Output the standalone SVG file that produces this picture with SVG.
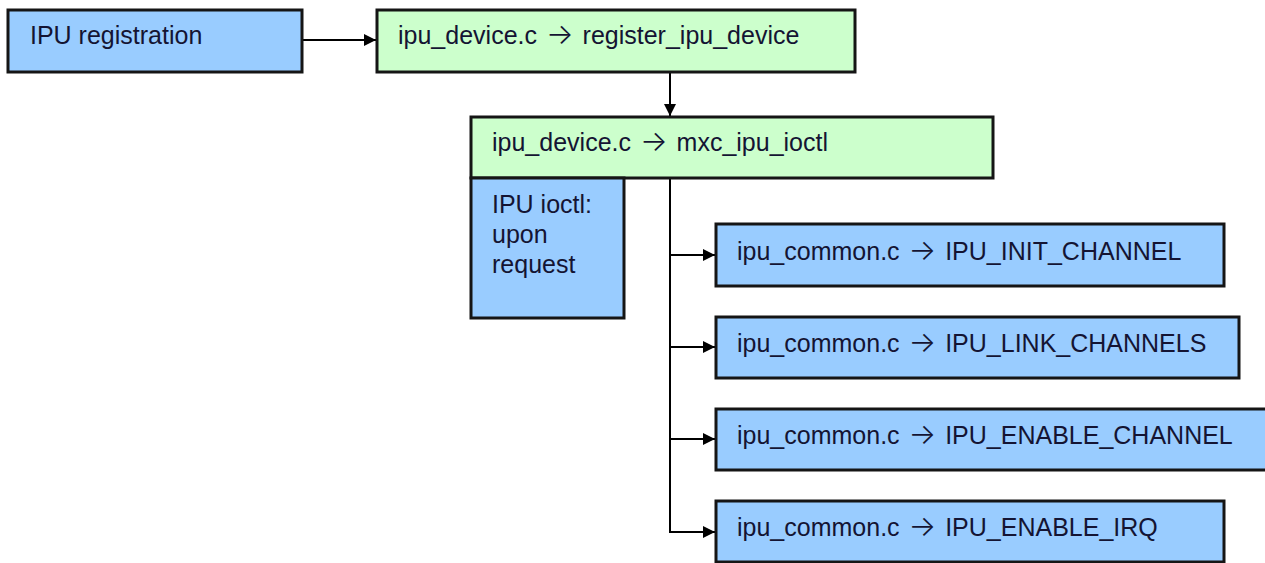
<svg xmlns="http://www.w3.org/2000/svg" width="1265" height="563" viewBox="0 0 1265 563">
<style>
.box{stroke:#151515;stroke-width:3}
.blue{fill:#99ccff}
.green{fill:#ccffcc}
text{font-family:"Liberation Sans",Arial,sans-serif;font-size:25px;fill:#141433}
.arr{font-family:Inter,"DejaVu Sans",sans-serif;font-weight:300;font-size:29px}
.conn{stroke:#000;stroke-width:2;fill:none}
</style>
<defs>
<marker id="ah" viewBox="0 0 10 10" refX="10" refY="5" markerWidth="14" markerHeight="12" markerUnits="userSpaceOnUse" orient="auto">
<path d="M0,0 L10,5 L0,10 Z" fill="#000"/>
</marker>
</defs>
<rect width="1265" height="563" fill="#fff"/>
<g id="connectors">
<line class="conn" x1="302" y1="40" x2="376" y2="40" marker-end="url(#ah)"/>
<line class="conn" x1="670" y1="72" x2="670" y2="116" marker-end="url(#ah)"/>
<polyline class="conn" points="670,179 670,532"/>
<line class="conn" x1="670" y1="255" x2="715" y2="255" marker-end="url(#ah)"/>
<line class="conn" x1="670" y1="347" x2="715" y2="347" marker-end="url(#ah)"/>
<line class="conn" x1="670" y1="439" x2="715" y2="439" marker-end="url(#ah)"/>
<line class="conn" x1="669" y1="532" x2="715" y2="532" marker-end="url(#ah)"/>
</g>
<g id="ipu-registration">
<rect class="box blue" x="8" y="10" width="294" height="62"/>
<text x="30" y="44">IPU registration</text>
</g>
<g id="register-ipu-device">
<rect class="box green" x="377" y="10" width="478" height="62"/>
<text x="398" y="44">ipu_device.c <tspan class="arr" dx="2">→</tspan> <tspan dx="2">register_ipu_device</tspan></text>
</g>
<g id="mxc-ipu-ioctl">
<rect class="box green" x="471" y="117" width="522" height="61"/>
<text x="492" y="151">ipu_device.c <tspan class="arr" dx="2">→</tspan> <tspan dx="2">mxc_ipu_ioctl</tspan></text>
</g>
<g id="ipu-ioctl-request">
<rect class="box blue" x="471" y="178" width="153" height="140"/>
<text x="492" y="213">IPU ioctl:</text>
<text x="492" y="243">upon</text>
<text x="492" y="273">request</text>
</g>
<g id="init-channel">
<rect class="box blue" x="716" y="224" width="508" height="62"/>
<text x="737" y="260">ipu_common.c <tspan class="arr" dx="2">→</tspan> <tspan dx="2">IPU_INIT_CHANNEL</tspan></text>
</g>
<g id="link-channels">
<rect class="box blue" x="716" y="317" width="523" height="61"/>
<text x="737" y="352">ipu_common.c <tspan class="arr" dx="2">→</tspan> <tspan dx="2">IPU_LINK_CHANNELS</tspan></text>
</g>
<g id="enable-channel">
<rect class="box blue" x="716" y="409" width="560" height="61"/>
<text x="737" y="444">ipu_common.c <tspan class="arr" dx="2">→</tspan> <tspan dx="2">IPU_ENABLE_CHANNEL</tspan></text>
</g>
<g id="enable-irq">
<rect class="box blue" x="716" y="501" width="508" height="61"/>
<text x="737" y="536">ipu_common.c <tspan class="arr" dx="2">→</tspan> <tspan dx="2">IPU_ENABLE_IRQ</tspan></text>
</g>
</svg>
